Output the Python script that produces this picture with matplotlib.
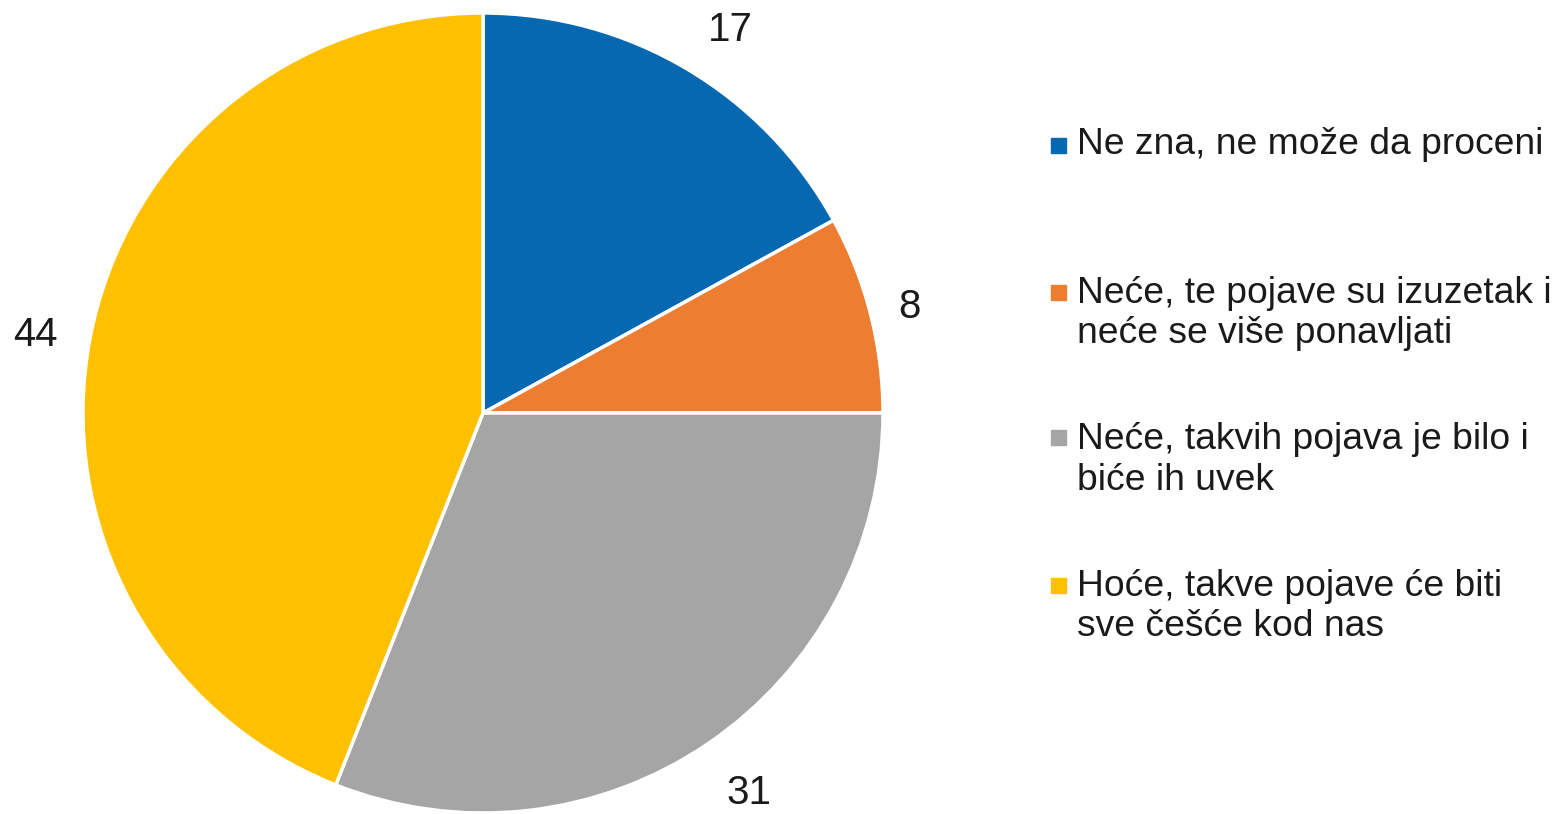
import matplotlib.pyplot as plt
from matplotlib.patches import Rectangle

plt.rcParams['font.family'] = ['Liberation Sans', 'DejaVu Sans']

# Podaci
labels = [
    "Ne zna, ne može da proceni",
    "Neće, te pojave su izuzetak i\nneće se više ponavljati",
    "Neće, takvih pojava je bilo i\nbiće ih uvek",
    "Hoće, takve pojave će biti\nsve češće kod nas",
]
values = [17, 8, 31, 44]
colors = ["#0568B0", "#ED7D31", "#A5A5A5", "#FFC000"]

W, H = 1555, 814
fig = plt.figure(figsize=(W / 100, H / 100), dpi=100)

# pie: center (483, 413) px, radius 400 px
cx, cy, r = 483, 413, 400
ax = fig.add_axes([(cx - r) / W, (H - cy - r) / H, 2 * r / W, 2 * r / H])
wedges, texts, autotexts = ax.pie(
    values,
    colors=colors,
    startangle=90,
    counterclock=False,
    autopct=lambda p: f"{p:.0f}",
    pctdistance=1.14,
    radius=1.0,
    wedgeprops=dict(edgecolor="white", linewidth=2.5),
    textprops=dict(fontsize=29, color="#1a1a1a"),
)
# sitne korekcije položaja oznaka (u px)
offsets = [(15, -9), (-15, -7), (10, -3), (0, -7)]
for t, (dx, dy) in zip(autotexts, offsets):
    x, y = t.get_position()
    t.set_position((x + dx / r, y + dy / r))
ax.set_xlim(-1, 1)
ax.set_ylim(-1, 1)
ax.axis('off')

# Legenda (ručno)
centers = [145, 313.5, 460, 606.5]
sq_y = [145, 292, 438, 585]
for lab, col, yc, ys in zip(labels, colors, centers, sq_y):
    fig.text(1077 / W, 1 - yc / H, lab, fontsize=26.8, va='center', ha='left',
             linespacing=1.2, color="#1a1a1a")
    fig.patches.append(Rectangle(((1051) / W, 1 - (ys + 7.5) / H), 15 / W, 15 / H,
                                 transform=fig.transFigure, color=col))

plt.savefig("out.png", dpi=100)
